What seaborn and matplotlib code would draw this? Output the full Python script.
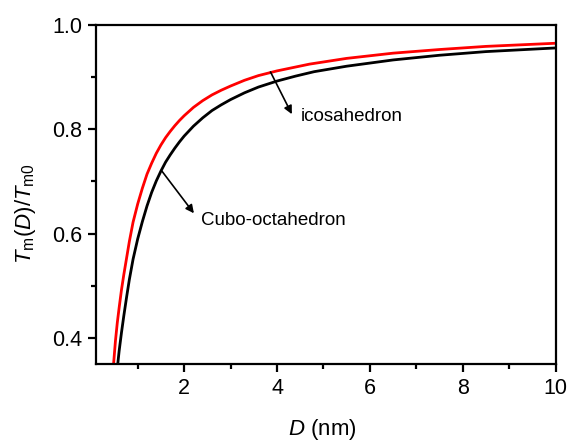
import numpy as np
import pandas as pd
import matplotlib
matplotlib.use('Agg')
import matplotlib.pyplot as plt
import seaborn as sns
from matplotlib.ticker import MultipleLocator

# values
d_ico = [0.48, 0.52, 0.56, 0.6, 0.65, 0.7, 0.76, 0.82, 0.9, 1.0, 1.1, 1.2, 1.3, 1.4,
         1.5, 1.6, 1.7, 1.8, 1.9, 2.0, 2.2, 2.4, 2.6, 2.8, 3.0, 3.3, 3.6, 4.0, 4.7,
         5.5, 6.5, 7.5, 8.5, 10.0]
t_ico = [0.35, 0.394, 0.429, 0.458, 0.492, 0.521, 0.553, 0.585, 0.622, 0.657, 0.687,
         0.714, 0.735, 0.754, 0.770, 0.784, 0.796, 0.807, 0.817, 0.826, 0.842, 0.855,
         0.866, 0.875, 0.883, 0.894, 0.903, 0.912, 0.925, 0.936, 0.946, 0.953, 0.959,
         0.965]

d_cubo = [0.57, 0.6, 0.65, 0.7, 0.76, 0.82, 0.9, 1.0, 1.1, 1.2, 1.3, 1.4, 1.5, 1.6,
          1.7, 1.8, 1.9, 2.0, 2.2, 2.4, 2.6, 2.8, 3.0, 3.3, 3.6, 4.0, 4.4, 4.8, 5.5,
          6.5, 7.5, 8.5, 10.0]
t_cubo = [0.35, 0.375, 0.41, 0.442, 0.478, 0.512, 0.551, 0.59, 0.623, 0.653, 0.679,
          0.701, 0.72, 0.737, 0.751, 0.764, 0.776, 0.787, 0.806, 0.822, 0.836, 0.847,
          0.857, 0.87, 0.881, 0.8925, 0.902, 0.9105, 0.921, 0.933, 0.942, 0.949, 0.956]

df = pd.concat([
    pd.DataFrame({'D': d_ico, 'T': t_ico, 'shape': 'icosahedron'}),
    pd.DataFrame({'D': d_cubo, 'T': t_cubo, 'shape': 'Cubo-octahedron'}),
])

sns.set_style('ticks')
plt.rcParams['font.family'] = ['Liberation Sans', 'DejaVu Sans']
plt.rcParams['mathtext.fontset'] = 'custom'
plt.rcParams['mathtext.rm'] = 'Liberation Sans'
plt.rcParams['mathtext.it'] = 'Liberation Sans:italic'
plt.rcParams['text.color'] = 'black'
plt.rcParams['axes.labelcolor'] = 'black'

fig = plt.figure(figsize=(5.71, 4.41), dpi=100)
ax = fig.add_axes([0.168, 0.1746, 0.805, 0.7687])

sns.lineplot(data=df, x='D', y='T', hue='shape', sort=False,
             palette={'icosahedron': '#ff0000', 'Cubo-octahedron': 'black'},
             hue_order=['Cubo-octahedron', 'icosahedron'],
             linewidth=2, legend=False, ax=ax)

ax.set_xlim(0.1, 10)
ax.set_ylim(0.35, 1.0)
ax.xaxis.set_minor_locator(MultipleLocator(1))
ax.yaxis.set_minor_locator(MultipleLocator(0.1))
ax.set_xticks([2, 4, 6, 8, 10])
ax.set_yticks([0.4, 0.6, 0.8, 1.0])

for s in ax.spines.values():
    s.set_linewidth(1.6)
    s.set_color('black')
ax.tick_params(which='major', direction='out', length=6, width=1.6, labelsize=15.5,
               colors='black', labelcolor='black', pad=4)
ax.tick_params(which='minor', direction='out', length=3.5, width=1.6, colors='black')

ax.set_xlabel(r'$D$ (nm)', fontsize=16, color='black')
ax.set_ylabel(r'$T_{\rm m}(D)/T_{\rm m0}$', fontsize=16, color='black')
ax.xaxis.set_label_coords(0.493, -0.155)
ax.yaxis.set_label_coords(-0.126, 0.445)

ax.annotate('', xy=(4.32, 0.829), xytext=(3.86, 0.910),
            arrowprops=dict(arrowstyle='-|>', color='black', lw=1.2,
                            mutation_scale=12, shrinkA=0, shrinkB=0))
ax.text(4.52, 0.824, 'icosahedron', fontsize=13.5, va='center', ha='left',
        color='black')

ax.annotate('', xy=(2.21, 0.639), xytext=(1.52, 0.72),
            arrowprops=dict(arrowstyle='-|>', color='black', lw=1.2,
                            mutation_scale=12, shrinkA=0, shrinkB=0))
ax.text(2.36, 0.626, 'Cubo-octahedron', fontsize=13.5, va='center', ha='left',
        color='black')

plt.savefig('out.png', dpi=100)
